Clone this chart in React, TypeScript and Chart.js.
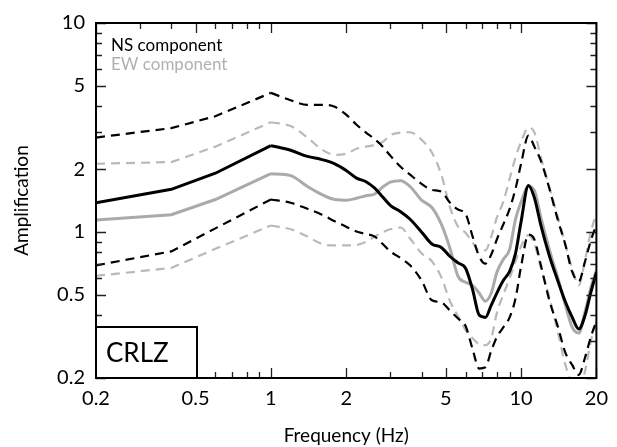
import React, { useEffect, useRef } from "react";
import { Chart, registerables } from "chart.js";

Chart.register(...registerables);

// Frequency samples (Hz)
const FREQ = [0.2, 0.4, 0.6, 1.0, 1.2, 1.4, 1.6, 1.8, 2.0, 2.2, 2.4, 2.6, 2.8, 3.0, 3.3, 3.6, 4.0, 4.4, 4.8, 5.2, 5.6, 6.0, 6.4, 6.8, 7.2, 7.6, 8.0, 8.5, 9.0, 9.5, 10, 10.7, 11.3, 12, 13, 14, 15, 16, 17, 18, 19, 20];

// NS component
const NS_MEAN = [1.38, 1.60, 1.91, 2.59, 2.46, 2.30, 2.22, 2.12, 1.97, 1.81, 1.74, 1.62, 1.47, 1.34, 1.25, 1.15, 1.00, 0.876, 0.843, 0.763, 0.711, 0.67, 0.53, 0.40, 0.39, 0.446, 0.51, 0.587, 0.648, 0.79, 1.12, 1.67, 1.46, 1.074, 0.763, 0.587, 0.466, 0.391, 0.343, 0.397, 0.514, 0.64];
const NS_UPPER = [2.83, 3.14, 3.58, 4.63, 4.27, 4.06, 4.06, 3.97, 3.64, 3.26, 2.99, 2.78, 2.56, 2.32, 2.05, 1.88, 1.70, 1.59, 1.56, 1.38, 1.28, 1.22, 0.952, 0.763, 0.705, 0.78, 0.92, 1.09, 1.29, 1.61, 2.12, 2.89, 2.56, 2.19, 1.60, 1.15, 0.876, 0.645, 0.58, 0.72, 0.91, 1.08];
const NS_LOWER = [0.692, 0.807, 1.04, 1.43, 1.38, 1.29, 1.21, 1.125, 1.06, 1.005, 0.978, 0.95, 0.876, 0.807, 0.75, 0.692, 0.587, 0.471, 0.46, 0.42, 0.385, 0.355, 0.275, 0.222, 0.225, 0.27, 0.314, 0.35, 0.39, 0.48, 0.685, 0.97, 0.92, 0.692, 0.466, 0.355, 0.266, 0.231, 0.207, 0.25, 0.314, 0.375];

// EW component
const EW_MEAN = [1.14, 1.21, 1.43, 1.90, 1.86, 1.65, 1.51, 1.43, 1.42, 1.45, 1.49, 1.52, 1.64, 1.73, 1.76, 1.65, 1.42, 1.31, 1.09, 0.834, 0.613, 0.574, 0.555, 0.51, 0.466, 0.51, 0.64, 0.74, 0.825, 1.15, 1.39, 1.65, 1.58, 1.17, 0.816, 0.607, 0.45, 0.35, 0.328, 0.413, 0.54, 0.655];
const EW_UPPER = [2.12, 2.16, 2.56, 3.35, 3.21, 2.83, 2.48, 2.34, 2.37, 2.50, 2.56, 2.61, 2.70, 2.90, 2.99, 3.0, 2.76, 2.40, 1.88, 1.31, 1.06, 0.99, 0.89, 0.816, 0.816, 0.95, 1.17, 1.40, 1.80, 2.27, 2.70, 3.16, 3.0, 2.28, 1.62, 1.19, 0.88, 0.67, 0.555, 0.73, 1.0, 1.23];
const EW_LOWER = [0.616, 0.673, 0.83, 1.074, 1.03, 0.951, 0.876, 0.862, 0.862, 0.867, 0.896, 0.951, 0.997, 1.03, 1.05, 0.93, 0.79, 0.724, 0.607, 0.466, 0.395, 0.339, 0.31, 0.29, 0.287, 0.31, 0.41, 0.503, 0.60, 0.724, 0.853, 0.965, 0.88, 0.67, 0.483, 0.335, 0.233, 0.19, 0.18, 0.215, 0.30, 0.37];

// Index where the coarse (straight-segment) low-frequency part ends (1 Hz)
const COARSE_END = 3;

// Axis ticks
const X_MAJOR = [0.2, 0.5, 1, 2, 5, 10, 20];
const X_MINOR = [0.3, 0.4, 0.6, 0.7, 0.8, 0.9, 3, 4, 6, 7, 8, 9];
const Y_MAJOR = [0.2, 0.5, 1, 2, 5, 10];
const Y_MINOR = [0.3, 0.4, 0.6, 0.7, 0.8, 0.9, 3, 4, 6, 7, 8, 9];

const LEGEND_LABELS = ["NS component", "EW component"];
const STATION = "CRLZ";

const FONT = "Lato, 'Open Sans', sans-serif";
const GRAY_SOLID = "#aaaaaa";
const GRAY_DASH = "#b9b9b9";

const framePlugin = {
  id: "frame",
  afterDatasetsDraw(chart: any) {
    const { ctx, chartArea } = chart;
    const { left, right, top, bottom } = chartArea;
    const xs = chart.scales.x;
    const ys = chart.scales.y;
    ctx.save();
    // ticks (inward, mirrored on all sides)
    ctx.strokeStyle = "#222";
    ctx.lineWidth = 1.3;
    const xt = (vals: number[], len: number) => {
      vals.forEach((v) => {
        const p = Math.round(xs.getPixelForValue(v)) + 0.5;
        ctx.beginPath();
        ctx.moveTo(p, bottom);
        ctx.lineTo(p, bottom - len);
        ctx.moveTo(p, top);
        ctx.lineTo(p, top + len);
        ctx.stroke();
      });
    };
    const yt = (vals: number[], len: number) => {
      vals.forEach((v) => {
        const p = Math.round(ys.getPixelForValue(v)) + 0.5;
        ctx.beginPath();
        ctx.moveTo(left, p);
        ctx.lineTo(left + len, p);
        ctx.moveTo(right, p);
        ctx.lineTo(right - len, p);
        ctx.stroke();
      });
    };
    xt(X_MAJOR, 10);
    xt(X_MINOR, 6);
    yt(Y_MAJOR, 10);
    yt(Y_MINOR, 6);

    // legend text
    ctx.textBaseline = "alphabetic";
    ctx.textAlign = "left";
    ctx.font = `17px ${FONT}`;
    ctx.fillStyle = "#000";
    ctx.fillText(LEGEND_LABELS[0], left + 15, top + 28);
    ctx.fillStyle = "#b0b0b0";
    ctx.fillText(LEGEND_LABELS[1], left + 15, top + 47);

    // station box
    const bx = left;
    const bw = 101;
    const bh = 51;
    const by = bottom - bh;
    ctx.fillStyle = "#fff";
    ctx.fillRect(bx, by, bw, bh);
    ctx.strokeStyle = "#000";
    ctx.lineWidth = 2;
    ctx.strokeRect(bx, by, bw, bh);
    ctx.fillStyle = "#000";
    ctx.font = `26px ${FONT}`;
    ctx.fillText(STATION, bx + 10, bottom - 16);

    // frame
    ctx.lineWidth = 2;
    ctx.strokeStyle = "#000";
    ctx.strokeRect(left, top, right - left, bottom - top);
    ctx.restore();
  },
};

export default function App() {
  const ref = useRef<HTMLCanvasElement>(null);
  useEffect(() => {
    const canvas = ref.current;
    if (!canvas) return;
    const pts = (vals: number[]) => FREQ.map((f, i) => ({ x: f, y: vals[i] }));
    const mk = (label: string, vals: number[], color: string, width: number, dash: number[]) => {
      const all = pts(vals);
      const base = {
        borderColor: color,
        backgroundColor: color,
        borderWidth: width,
        borderDash: dash,
        pointRadius: 0,
        fill: false,
        clip: 0,
      };
      return [
        { ...base, label: label + " (low)", data: all.slice(0, COARSE_END + 1), tension: 0 },
        { ...base, label, data: all.slice(COARSE_END), cubicInterpolationMode: "monotone" },
      ];
    };
    const chart = new Chart(canvas, {
      type: "line",
      data: {
        datasets: [
          ...mk("NS mean", NS_MEAN, "#000", 3, []),
          ...mk("NS +1σ", NS_UPPER, "#000", 2.2, [9, 6]),
          ...mk("NS -1σ", NS_LOWER, "#000", 2.2, [9, 6]),
          ...mk("EW mean", EW_MEAN, GRAY_SOLID, 3, []),
          ...mk("EW +1σ", EW_UPPER, GRAY_DASH, 2.2, [9, 6]),
          ...mk("EW -1σ", EW_LOWER, GRAY_DASH, 2.2, [9, 6]),
        ] as any,
      },
      options: {
        animation: false,
        responsive: false,
        devicePixelRatio: 1,
        layout: { padding: { left: 0, top: 22, right: 13, bottom: 0 } },
        plugins: { legend: { display: false }, tooltip: { enabled: false } },
        scales: {
          x: {
            type: "logarithmic",
            position: "bottom",
            min: 0.2,
            max: 20,
            grid: { display: false, drawTicks: false },
            border: { display: false },
            afterBuildTicks: (s: any) => {
              s.ticks = X_MAJOR.map((v) => ({ value: v }));
            },
            afterFit: (s: any) => {
              s.height = 69;
            },
            ticks: {
              autoSkip: false,
              maxRotation: 0,
              padding: 9,
              color: "#000",
              font: { family: FONT, size: 20 },
              callback: (v: any) => String(v),
            },
            title: {
              display: true,
              text: "Frequency (Hz)",
              color: "#000",
              font: { family: FONT, size: 19 },
              padding: { top: 0, bottom: 0 },
            },
          },
          y: {
            type: "logarithmic",
            position: "left",
            min: 0.2,
            max: 10,
            grid: { display: false, drawTicks: false },
            border: { display: false },
            afterBuildTicks: (s: any) => {
              s.ticks = Y_MAJOR.map((v) => ({ value: v }));
            },
            afterFit: (s: any) => {
              s.width = 96;
            },
            ticks: {
              autoSkip: false,
              padding: 11,
              color: "#000",
              font: { family: FONT, size: 20 },
              callback: (v: any) => String(v),
            },
            title: {
              display: true,
              text: "Amplification",
              color: "#000",
              font: { family: FONT, size: 19 },
              padding: { top: 10, bottom: 0 },
            },
          },
        },
      } as any,
      plugins: [framePlugin],
    });
    return () => chart.destroy();
  }, []);
  return (
    <div style={{ position: "absolute", left: 0, top: 0, width: 617, height: 447, background: "#fff" }}>
      <canvas ref={ref} width={617} height={447} style={{ display: "block", width: 617, height: 447 }} />
    </div>
  );
}
